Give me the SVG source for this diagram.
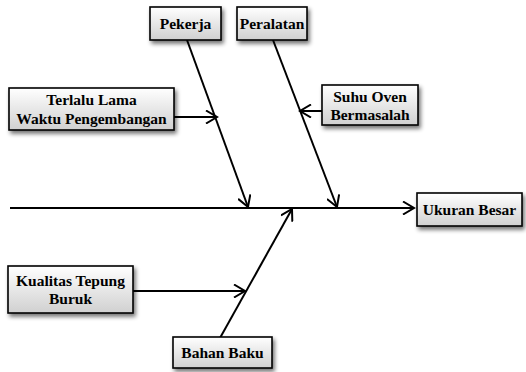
<svg xmlns="http://www.w3.org/2000/svg" width="526" height="372" viewBox="0 0 526 372">
<style>
.box{fill:url(#g);stroke:#000;stroke-width:1.6;filter:url(#sh)}
.t{font-family:'Liberation Serif','Times New Roman','DejaVu Serif',serif;font-weight:bold;font-size:15.5px;fill:#000;text-anchor:middle}
.ln{stroke:#000;stroke-width:2;fill:none}
</style>
<defs>
<linearGradient id="g" x1="0" y1="0" x2="0" y2="1">
<stop offset="0" stop-color="#ffffff"/>
<stop offset="1" stop-color="#d0d0d0"/>
</linearGradient>
<filter id="sh" x="-20%" y="-30%" width="150%" height="180%">
<feGaussianBlur in="SourceAlpha" stdDeviation="2"/>
<feOffset dx="2" dy="3" result="b"/>
<feComponentTransfer><feFuncA type="linear" slope="0.55"/></feComponentTransfer>
<feMerge><feMergeNode/><feMergeNode in="SourceGraphic"/></feMerge>
</filter>
<marker id="a" markerWidth="14" markerHeight="14" refX="12" refY="7" orient="auto" markerUnits="userSpaceOnUse">
<path d="M1,0.5 L12,7 L1,13.5" fill="none" stroke="#000" stroke-width="2"/>
</marker>
</defs>
<g id="connectors">
<line class="ln" x1="10" y1="208" x2="414" y2="208" marker-end="url(#a)"/>
<line class="ln" x1="187" y1="40" x2="248" y2="207" marker-end="url(#a)"/>
<line class="ln" x1="273" y1="40" x2="337" y2="207" marker-end="url(#a)"/>
<line class="ln" x1="220" y1="338" x2="292" y2="209" marker-end="url(#a)"/>
<line class="ln" x1="174" y1="117" x2="217" y2="117" marker-end="url(#a)"/>
<line class="ln" x1="322" y1="111" x2="300" y2="111" marker-end="url(#a)"/>
<line class="ln" x1="133" y1="291" x2="245" y2="291" marker-end="url(#a)"/>
</g>
<g id="pekerja"><rect class="box" x="150" y="7" width="71" height="33"/><text class="t" x="185.5" y="29">Pekerja</text></g>
<g id="peralatan"><rect class="box" x="237" y="7" width="70" height="33"/><text class="t" x="272" y="29">Peralatan</text></g>
<g id="terlalu"><rect class="box" x="9" y="88" width="165" height="42"/><text class="t" x="91.5" y="105">Terlalu Lama</text><text class="t" x="91.5" y="124">Waktu Pengembangan</text></g>
<g id="suhu"><rect class="box" x="322" y="85" width="96" height="40"/><text class="t" x="370" y="102">Suhu Oven</text><text class="t" x="370" y="120">Bermasalah</text></g>
<g id="ukuran"><rect class="box" x="417" y="193" width="105" height="33"/><text class="t" x="469.5" y="215">Ukuran Besar</text></g>
<g id="kualitas"><rect class="box" x="8" y="266" width="125" height="47"/><text class="t" x="70.5" y="286">Kualitas Tepung</text><text class="t" x="70.5" y="304">Buruk</text></g>
<g id="bahan"><rect class="box" x="173" y="337" width="99" height="31"/><text class="t" x="222.5" y="358">Bahan Baku</text></g>
</svg>
